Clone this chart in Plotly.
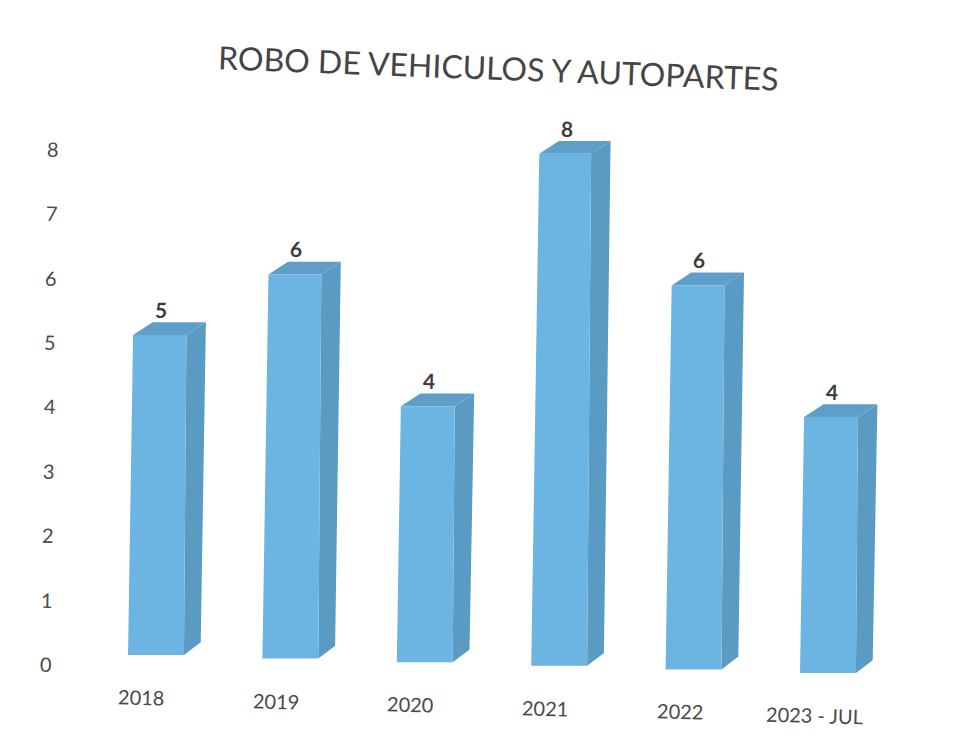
import plotly.graph_objects as go

title = "ROBO DE VEHICULOS Y AUTOPARTES"
categories = ["2018", "2019", "2020", "2021", "2022", "2023 - JUL"]
values = [5, 6, 4, 8, 6, 4]
y_ticks = [0, 1, 2, 3, 4, 5, 6, 7, 8]

# The scan is slightly rotated: the baseline falls and the bars lean
TILT = 0.05625       # value units lost per category
LEAN_L = 0.0075      # category units per value, left edge
LEAN_R = 0.0037      # category units per value, right edge
HALF = 0.208         # half bar width in category units
DX_B, DX_T, DY = 0.125, 0.145, 0.2

front_x, front_y, side_x, side_y, top_x, top_y = [], [], [], [], [], []
for i, v in enumerate(values):
    b = -TILT * i
    t = b + v
    xl, xr = i - HALF, i + HALF
    xlt, xrt = xl + LEAN_L * v, xr + LEAN_R * v
    front_x += [xl, xr, xrt, xlt, xl, None]
    front_y += [b, b, t, t, b, None]
    side_x += [xr, xr + DX_B, xrt + DX_T, xrt, xr, None]
    side_y += [b, b + DY, t + DY, t, b, None]
    top_x += [xlt, xlt + DX_T, xrt + DX_T, xrt, xlt, None]
    top_y += [t, t + DY, t + DY, t, t, None]

fig = go.Figure()
for xs, ys, col in [(side_x, side_y, "#5A9BC3"),
                    (top_x, top_y, "#5F9EC6"),
                    (front_x, front_y, "#6CB4E1")]:
    fig.add_trace(go.Scatter(x=xs, y=ys, mode="lines", fill="toself", fillcolor=col,
                             line=dict(width=0, color=col), hoverinfo="skip", showlegend=False))

FONT = "Lato, Carlito, sans-serif"
ANGLE = 1.6
ann = []
ann.append(dict(x=2.55, y=9.18, text=title, font=dict(size=32, color="#454545", family=FONT), textangle=2.2))
for t in y_ticks:
    ann.append(dict(x=-0.818 + 0.0065 * t, y=-0.14 + 1.006 * t, text=str(t),
                    font=dict(size=20, color="#4a4a4a", family=FONT), textangle=ANGLE))
for i, c in enumerate(categories):
    ann.append(dict(x=-0.11 + 1.0015 * i, y=-0.656 - TILT * i, text=c,
                    font=dict(size=20, color="#4a4a4a", family=FONT), textangle=ANGLE))
for i, v in enumerate(values):
    ann.append(dict(x=i - 0.002 + LEAN_L * v, y=v - TILT * i + 0.4, text="<b>%d</b>" % v,
                    font=dict(size=21, color="#3c3c3c", family=FONT), textangle=ANGLE))
for a in ann:
    a.update(xref="x", yref="y", showarrow=False, xanchor="center", yanchor="middle")

# The page keeps an 8 px body margin, so the figure is inset to avoid overflow
fig.update_layout(
    width=958, height=723, autosize=False,
    margin=dict(l=0, r=0, t=0, b=0),
    paper_bgcolor="#ffffff", plot_bgcolor="#ffffff",
    showlegend=False, annotations=ann,
    xaxis=dict(range=[-1.101, 6.027], visible=False, fixedrange=True),
    yaxis=dict(range=[-1.1875, 10.109], visible=False, fixedrange=True),
)
fig.write_html("out.html", config=dict(displayModeBar=False))
